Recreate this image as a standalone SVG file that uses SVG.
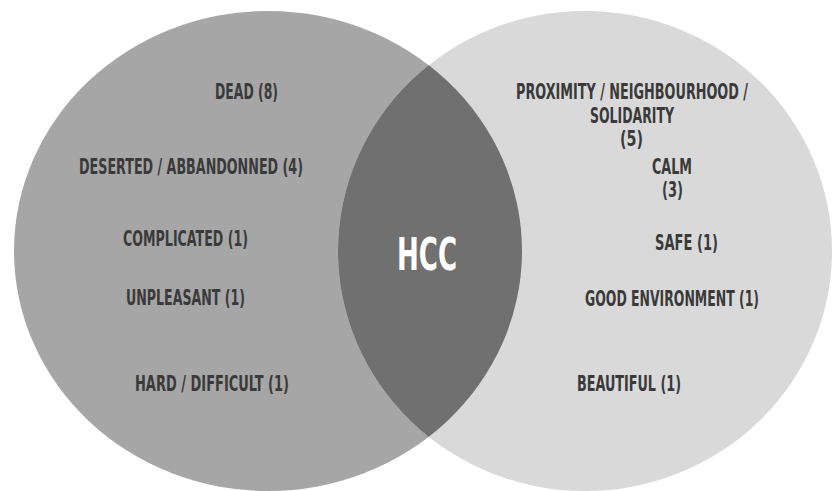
<svg xmlns="http://www.w3.org/2000/svg" width="832" height="491" viewBox="0 0 832 491">
  <style>
    .lbl { font-family: "Liberation Sans Narrow", "DejaVu Sans Condensed", "Liberation Sans", sans-serif; font-weight: bold; font-size: 22px; fill: #3a3a3a; text-anchor: middle; }
    .hcc { font-family: "Liberation Sans Narrow", "DejaVu Sans Condensed", "Liberation Sans", sans-serif; font-weight: bold; font-size: 45px; fill: #ffffff; text-anchor: middle; }
  </style>
  <defs>
    <clipPath id="leftClip">
      <ellipse cx="268" cy="251" rx="254" ry="240"/>
    </clipPath>
  </defs>
  <rect width="832" height="491" fill="#ffffff"/>
  <g id="left-set">
    <ellipse cx="268" cy="251" rx="254" ry="240" fill="#a6a6a6"/>
  </g>
  <g id="right-set">
    <ellipse cx="585" cy="251" rx="247" ry="240" fill="#d9d9d9"/>
  </g>
  <g id="intersection">
    <ellipse cx="585" cy="251" rx="247" ry="240" fill="#707070" clip-path="url(#leftClip)"/>
    <text class="hcc" x="427" y="270" textLength="60" lengthAdjust="spacingAndGlyphs">HCC</text>
  </g>
  <g id="left-labels">
    <text class="lbl" x="246.5" y="99" textLength="63" lengthAdjust="spacingAndGlyphs">DEAD (8)</text>
    <text class="lbl" x="191" y="174" textLength="224" lengthAdjust="spacingAndGlyphs">DESERTED / ABBANDONNED (4)</text>
    <text class="lbl" x="185.5" y="246" textLength="125" lengthAdjust="spacingAndGlyphs">COMPLICATED (1)</text>
    <text class="lbl" x="185.5" y="305" textLength="119" lengthAdjust="spacingAndGlyphs">UNPLEASANT (1)</text>
    <text class="lbl" x="212" y="391" textLength="154" lengthAdjust="spacingAndGlyphs">HARD / DIFFICULT (1)</text>
  </g>
  <g id="right-labels">
    <text class="lbl" x="632" y="99" textLength="232" lengthAdjust="spacingAndGlyphs">PROXIMITY / NEIGHBOURHOOD /</text>
    <text class="lbl" x="632" y="123" textLength="84" lengthAdjust="spacingAndGlyphs">SOLIDARITY</text>
    <text class="lbl" x="631.5" y="146" textLength="23" lengthAdjust="spacingAndGlyphs">(5)</text>
    <text class="lbl" x="672" y="174" textLength="40" lengthAdjust="spacingAndGlyphs">CALM</text>
    <text class="lbl" x="672.5" y="197" textLength="21" lengthAdjust="spacingAndGlyphs">(3)</text>
    <text class="lbl" x="686.5" y="250" textLength="63" lengthAdjust="spacingAndGlyphs">SAFE (1)</text>
    <text class="lbl" x="672" y="306" textLength="174" lengthAdjust="spacingAndGlyphs">GOOD ENVIRONMENT (1)</text>
    <text class="lbl" x="629" y="391" textLength="104" lengthAdjust="spacingAndGlyphs">BEAUTIFUL (1)</text>
  </g>
</svg>
